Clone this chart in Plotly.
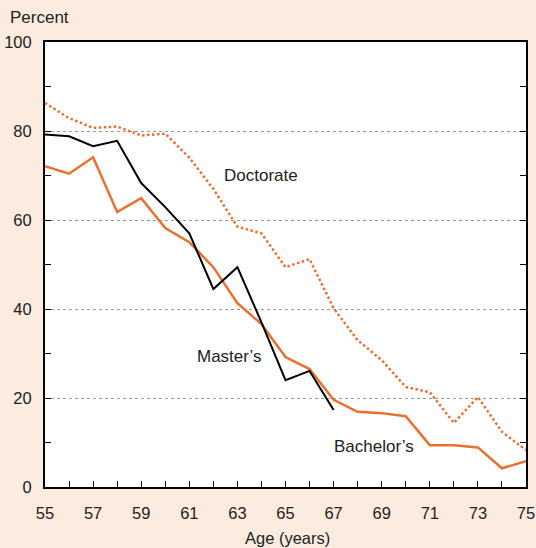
import plotly.graph_objects as go

ages = list(range(55, 76))
doctorate = [86.3, 82.9, 80.7, 81.0, 79.0, 79.4, 74.0, 67.0, 58.5, 57.0, 49.4, 51.2,
             40.2, 33.0, 28.5, 22.5, 21.3, 14.4, 20.2, 12.4, 8.3]
masters_ages = list(range(55, 68))
masters = [79.2, 78.8, 76.6, 77.8, 68.3, 62.9, 57.0, 44.5, 49.4, 37.0, 24.0, 26.1, 17.3]
bachelors = [72.1, 70.4, 74.1, 61.8, 64.9, 58.2, 55.0, 49.4, 41.3, 36.6, 29.2, 26.5,
             19.6, 16.9, 16.6, 15.9, 9.4, 9.4, 8.9, 4.2, 5.8]
x_ticks = list(range(55, 76, 2))
y_ticks = list(range(0, 101, 20))

ORANGE = "#ea7030"
BG = "#fcebdf"
FONT = "Liberation Sans, Arial, sans-serif"

fig = go.Figure()
fig.add_trace(go.Scatter(x=ages, y=doctorate, mode="lines",
                         line=dict(color=ORANGE, width=2.5, dash="2.5px,2.5px"), name="Doctorate"))
fig.add_trace(go.Scatter(x=ages, y=bachelors, mode="lines",
                         line=dict(color=ORANGE, width=2.5), name="Bachelor's"))
fig.add_trace(go.Scatter(x=masters_ages, y=masters, mode="lines",
                         line=dict(color="black", width=2), name="Master's"))

ann_font = dict(family=FONT, size=17, color="#222")
fig.add_annotation(x=63.98, y=70.1, text="Doctorate", showarrow=False, font=ann_font)
fig.add_annotation(x=62.69, y=29.4, text="Master’s", showarrow=False, font=ann_font)
fig.add_annotation(x=68.68, y=9.2, text="Bachelor’s", showarrow=False, font=ann_font)
fig.add_annotation(xref="paper", yref="paper", x=(8 - 45) / 481, y=(487 - 17) / 445,
                   xanchor="left", yanchor="middle", text="Percent", showarrow=False,
                   font=ann_font)
fig.add_annotation(xref="paper", yref="paper", x=(287.5 - 45) / 481, y=(487 - 538) / 445,
                   xanchor="center", yanchor="middle", text="Age (years)", showarrow=False,
                   font=dict(family=FONT, size=16.5, color="#222"))

fig.update_layout(
    width=536, height=548,
    margin=dict(l=45, r=10, t=42, b=61),
    paper_bgcolor=BG, plot_bgcolor="white",
    showlegend=False,
    font=dict(family=FONT, size=16.5, color="#222"),
)
fig.update_xaxes(range=[55, 75], tickvals=x_ticks, ticks="inside", ticklen=6,
                 tickcolor="black", showline=True, linecolor="black", linewidth=2,
                 mirror=True, showgrid=False, zeroline=False, automargin=False,
                 minor=dict(dtick=1, ticks="inside", ticklen=6, tickcolor="black"),
                 ticklabelstandoff=10)
fig.update_yaxes(range=[0, 100], tickvals=y_ticks, ticks="inside", ticklen=6,
                 tickcolor="black", showline=True, linecolor="black", linewidth=2,
                 mirror="ticks", showgrid=True, gridcolor="#999", gridwidth=1,
                 griddash="dot", zeroline=False, automargin=False,
                 minor=dict(dtick=10, ticks="inside", ticklen=6, tickcolor="black",
                            showgrid=False),
                 ticklabelstandoff=8)

fig.write_html("out.html", config={"displayModeBar": False},
               post_script="document.body.style.margin='0';document.body.style.overflow='hidden';")
